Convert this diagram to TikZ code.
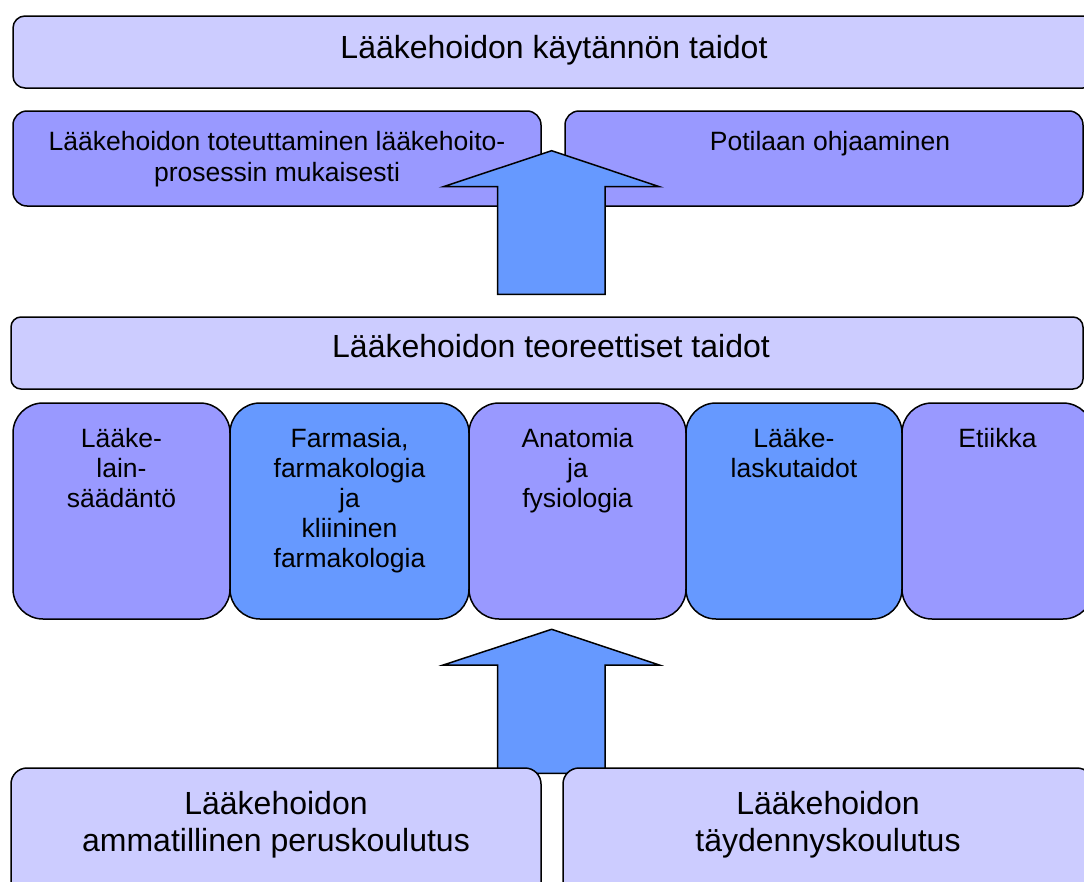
\documentclass[tikz,border=0pt]{standalone}
\usepackage{fontspec}
\setmainfont{Liberation Sans}
\definecolor{palelav}{HTML}{CCCCFF}
\definecolor{lav}{HTML}{9999FF}
\definecolor{skyblue}{HTML}{6699FF}
\begin{document}
\begin{tikzpicture}[x=1pt,y=-1pt,
  panel/.style={draw=black, line width=1.5pt, inner sep=0pt, outer sep=0pt},
  wide/.style={panel, fill=palelav, rounded corners=12pt},
  subpanel/.style={panel, fill=lav, rounded corners=14pt},
  pillar/.style={panel, rounded corners=30pt, minimum height=216pt},
  upshape/.style={draw=black, line width=1.5pt, fill=skyblue, line join=miter},
  % text nodes are placed by the baseline of their last line
  bigtxt/.style={font=\fontsize{32}{37}\selectfont, anchor=base, align=center, inner sep=0pt},
  smalltxt/.style={font=\fontsize{26.5}{30}\selectfont, anchor=base, align=center, inner sep=0pt}
]
\useasboundingbox (0,0) rectangle (1084,881);
\clip (0,0) rectangle (1084,881);

% practical skills
\node[wide, minimum width=1082pt, minimum height=72pt] (practice) at (554,52) {};
\node[bigtxt] (practicetxt) at (554,58) {Lääkehoidon käytännön taidot};

\node[subpanel, minimum width=528pt, minimum height=95pt] (process) at (277,158.5) {};
\node[smalltxt, font=\fontsize{26.5}{31.5}\selectfont] (processtxt) at (277,181.5) {Lääkehoidon toteuttaminen lääkehoito-\\prosessin mukaisesti};
\node[subpanel, minimum width=518pt, minimum height=95pt] (guidance) at (824,158.5) {};
\node[smalltxt] (guidancetxt) at (830,150) {Potilaan ohjaaminen};

% upward arrow from theory to practice
\coordinate (a1tip) at (551.7,150.7);
\draw[upshape] (a1tip) -- (659.3,186.7) -- (605,186.7) -- (605,294.3)
  -- (497.7,294.3) -- (497.7,186.7) -- (443.3,186.7) -- cycle;

% theoretical skills
\node[wide, rounded corners=10pt, minimum width=1072pt, minimum height=72pt] (theory) at (547,353) {};
\node[bigtxt] (theorytxt) at (551,357) {Lääkehoidon teoreettiset taidot};

\node[pillar, fill=lav, minimum width=217pt] (law) at (121.5,511) {};
\node[pillar, fill=skyblue, minimum width=239pt] (pharma) at (349.5,511) {};
\node[pillar, fill=lav, minimum width=217pt] (anat) at (577.5,511) {};
\node[pillar, fill=skyblue, minimum width=216pt] (calc) at (794,511) {};
\node[pillar, fill=lav, minimum width=191pt] (ethics) at (997.5,511) {};

\node[smalltxt] (lawtxt) at (121.5,507) {Lääke-\\lain-\\säädäntö};
\node[smalltxt] (pharmatxt) at (349.5,567) {Farmasia,\\farmakologia\\ja\\kliininen\\farmakologia};
\node[smalltxt] (anattxt) at (577.5,507) {Anatomia\\ja\\fysiologia};
\node[smalltxt] (calctxt) at (794,477) {Lääke-\\laskutaidot};
\node[smalltxt] (ethicstxt) at (997.5,447) {Etiikka};

% upward arrow from education to theory
\coordinate (a2tip) at (551.7,629.3);
\draw[upshape] (a2tip) -- (659.3,665) -- (605,665) -- (605,773.3)
  -- (497.7,773.3) -- (497.7,665) -- (443.3,665) -- cycle;

% education
\node[wide, rounded corners=16pt, minimum width=530pt, minimum height=132pt] (basic) at (276,834) {};
\node[bigtxt] (basictxt) at (276,851) {Lääkehoidon\\ammatillinen peruskoulutus};
\node[wide, rounded corners=16pt, minimum width=530pt, minimum height=132pt] (further) at (828,834) {};
\node[bigtxt] (furthertxt) at (828,851) {Lääkehoidon\\täydennyskoulutus};
\end{tikzpicture}
\end{document}
